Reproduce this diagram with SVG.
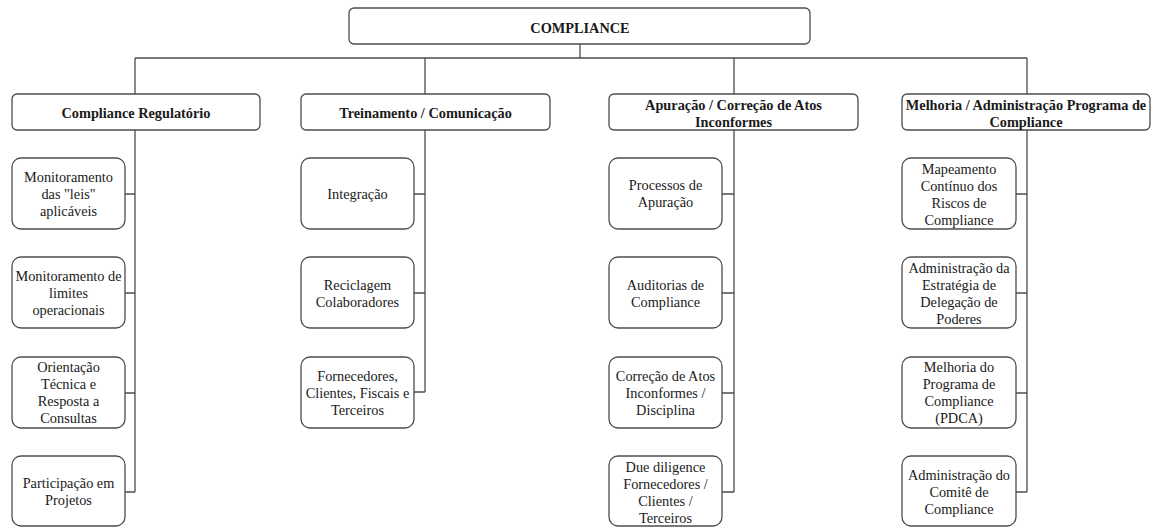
<svg xmlns="http://www.w3.org/2000/svg" width="1160" height="527" viewBox="0 0 1160 527">
<style>
.box{fill:#fff;stroke:#4d4d4d;stroke-width:1.3}
.con{fill:none;stroke:#4d4d4d;stroke-width:1.3}
text{font-family:"Liberation Serif","Times New Roman",serif;font-size:14.3px;fill:#1a1a1a;text-anchor:middle}
.h{font-weight:bold}
</style>
<rect width="1160" height="527" fill="#fff"/>
<g id="connectors">
<path class="con" d="M580,44V58M135,58H1027M135,58V94M425,58V94M734,58V94M1027,58V94"/>
<path class="con" d="M135,130V492M125,194H135M125,293H135M125,393H135M125,492H135"/>
<path class="con" d="M425,130V392M414,194H425M414,293H425M414,392H425"/>
<path class="con" d="M734,130V492M722,194H734M722,293H734M722,393H734M722,492H734"/>
<path class="con" d="M1027,130V492M1016,194H1027M1016,293H1027M1016,393H1027M1016,492H1027"/>
</g>
<g id="root"><rect class="box" x="349" y="8" width="461" height="36" rx="5"/><text class="h" x="580" y="32.5">COMPLIANCE</text></g>
<g id="h1"><rect class="box" x="12" y="94" width="248" height="36" rx="5"/><text class="h" x="136" y="118">Compliance Regulatório</text></g>
<g id="h2"><rect class="box" x="301" y="94" width="249" height="36" rx="5"/><text class="h" x="425.5" y="118">Treinamento / Comunicação</text></g>
<g id="h3"><rect class="box" x="609" y="94" width="249" height="36" rx="5"/><text class="h" x="733.5" y="109.5">Apuração / Correção de Atos</text><text class="h" x="733.5" y="126.5">Inconformes</text></g>
<g id="h4"><rect class="box" x="902" y="94" width="248" height="36" rx="5"/><text class="h" x="1026" y="109.5">Melhoria / Administração Programa de</text><text class="h" x="1026" y="126.5">Compliance</text></g>

<g id="c1a"><rect class="box" x="12" y="158" width="113" height="71" rx="9"/><text x="68.5" y="181.5">Monitoramento</text><text x="68.5" y="198.5">das "leis"</text><text x="68.5" y="215.5">aplicáveis</text></g>
<g id="c1b"><rect class="box" x="12" y="257" width="113" height="71" rx="9"/><text x="68.5" y="280.5">Monitoramento de</text><text x="68.5" y="297.5">limites</text><text x="68.5" y="314.5">operacionais</text></g>
<g id="c1c"><rect class="box" x="12" y="357" width="113" height="71" rx="9"/><text x="68.5" y="371.5">Orientação</text><text x="68.5" y="388.5">Técnica e</text><text x="68.5" y="405.5">Resposta a</text><text x="68.5" y="422.5">Consultas</text></g>
<g id="c1d"><rect class="box" x="12" y="456" width="113" height="70" rx="9"/><text x="68.5" y="487.5">Participação em</text><text x="68.5" y="504.5">Projetos</text></g>

<g id="c2a"><rect class="box" x="301" y="158" width="113" height="71" rx="9"/><text x="357.5" y="198.5">Integração</text></g>
<g id="c2b"><rect class="box" x="301" y="257" width="113" height="71" rx="9"/><text x="357.5" y="289.5">Reciclagem</text><text x="357.5" y="306.5">Colaboradores</text></g>
<g id="c2c"><rect class="box" x="301" y="357" width="113" height="71" rx="9"/><text x="357.5" y="380.5">Fornecedores,</text><text x="357.5" y="397.5">Clientes, Fiscais e</text><text x="357.5" y="414.5">Terceiros</text></g>

<g id="c3a"><rect class="box" x="609" y="158" width="113" height="71" rx="9"/><text x="665.5" y="190">Processos de</text><text x="665.5" y="207">Apuração</text></g>
<g id="c3b"><rect class="box" x="609" y="257" width="113" height="71" rx="9"/><text x="665.5" y="289.5">Auditorias de</text><text x="665.5" y="306.5">Compliance</text></g>
<g id="c3c"><rect class="box" x="609" y="357" width="113" height="71" rx="9"/><text x="665.5" y="380.5">Correção de Atos</text><text x="665.5" y="397.5">Inconformes /</text><text x="665.5" y="414.5">Disciplina</text></g>
<g id="c3d"><rect class="box" x="609" y="456" width="113" height="70" rx="9"/><text x="665.5" y="471.5">Due diligence</text><text x="665.5" y="488.5">Fornecedores /</text><text x="665.5" y="505.5">Clientes /</text><text x="665.5" y="522.5">Terceiros</text></g>

<g id="c4a"><rect class="box" x="902" y="158" width="114" height="71" rx="9"/><text x="959" y="173.5">Mapeamento</text><text x="959" y="190.5">Contínuo dos</text><text x="959" y="207.5">Riscos de</text><text x="959" y="224.5">Compliance</text></g>
<g id="c4b"><rect class="box" x="902" y="257" width="114" height="71" rx="9"/><text x="959" y="272.5">Administração da</text><text x="959" y="289.5">Estratégia de</text><text x="959" y="306.5">Delegação de</text><text x="959" y="323.5">Poderes</text></g>
<g id="c4c"><rect class="box" x="902" y="357" width="114" height="71" rx="9"/><text x="959" y="371.5">Melhoria do</text><text x="959" y="388.5">Programa de</text><text x="959" y="405.5">Compliance</text><text x="959" y="422.5">(PDCA)</text></g>
<g id="c4d"><rect class="box" x="902" y="456" width="114" height="70" rx="9"/><text x="959" y="479.5">Administração do</text><text x="959" y="496.5">Comitê de</text><text x="959" y="513.5">Compliance</text></g>
</svg>
